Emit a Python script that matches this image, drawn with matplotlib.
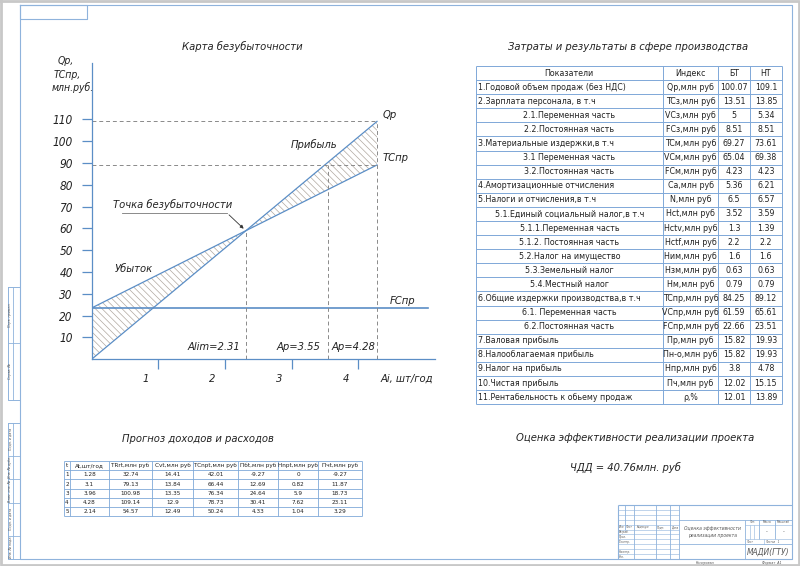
import matplotlib
matplotlib.use('Agg')
import matplotlib.pyplot as plt

plt.rcParams['font.family'] = ['DejaVu Sans']
plt.rcParams['font.stretch'] = 'condensed'
plt.rcParams['hatch.linewidth'] = 0.5

# --- данные графика (НТ) ---
a_max = 4.28          # Ap, шт/год
qp_max = 109.1        # годовой объем продаж
tc_start = 23.51      # постоянные издержки FCпр
tc_max = 89.12        # общие издержки TCпр при a_max
a_lim = 2.31          # точка безубыточности
be_value = 59.0
a_p = 3.55
fc_end = 5.04
y_ticks = [10, 20, 30, 40, 50, 60, 70, 80, 90, 100, 110]
x_ticks = [1, 2, 3, 4]

# --- таблица затрат и результатов ---
indicators = ['1.Годовой объем продаж (без НДС)', '2.Зарплата персонала, в т.ч',
              '2.1.Переменная часть', '2.2.Постоянная часть',
              '3.Материальные издержки,в т.ч', '3.1 Переменная часть',
              '3.2.Постоянная часть', '4.Амортизационные отчисления',
              '5.Налоги и отчисления,в т.ч', '5.1.Единый социальный налог,в т.ч',
              '5.1.1.Переменная часть', '5.1.2. Постоянная часть',
              '5.2.Налог на имущество', '5.3.Земельный налог', '5.4.Местный налог',
              '6.Общие издержки производства,в т.ч', '6.1. Переменная часть',
              '6.2.Постоянная часть', '7.Валовая прибыль', '8.Налооблагаемая прибыль',
              '9.Налог на прибыль', '10.Чистая прибыль',
              '11.Рентабельность к обьему продаж']
indices = ['Qp,млн руб', 'TCз,млн руб', 'VCз,млн руб', 'FCз,млн руб', 'TCм,млн руб',
           'VCм,млн руб', 'FCм,млн руб', 'Cа,млн руб', 'N,млн руб', 'Hct,млн руб',
           'Hctv,млн руб', 'Hctf,млн руб', 'Hим,млн руб', 'Hзм,млн руб', 'Hм,млн руб',
           'TCпр,млн руб', 'VCпр,млн руб', 'FCпр,млн руб', 'Пр,млн руб', 'Пн-о,млн руб',
           'Hпр,млн руб', 'Пч,млн руб', 'ρ,%']
bt = [100.07, 13.51, 5, 8.51, 69.27, 65.04, 4.23, 5.36, 6.5, 3.52, 1.3, 2.2, 1.6,
      0.63, 0.79, 84.25, 61.59, 22.66, 15.82, 15.82, 3.8, 12.02, 12.01]
nt = [109.1, 13.85, 5.34, 8.51, 73.61, 69.38, 4.23, 6.21, 6.57, 3.59, 1.39, 2.2, 1.6,
      0.63, 0.79, 89.12, 65.61, 23.51, 19.93, 19.93, 4.78, 15.15, 13.89]
sub_rows = [2, 3, 5, 6, 9, 10, 11, 12, 13, 14, 16, 17]

# --- прогноз доходов и расходов ---
fc_headers = ['t', 'At,шт/год', 'TRrt,млн руб', 'Cvt,млн руб', 'TCnpt,млн руб',
              'Пбt,млн руб', 'Hnpt,млн руб', 'Пчt,млн руб']
fc_t = [1, 2, 3, 4, 5]
fc_at = [1.28, 3.1, 3.96, 4.28, 2.14]
fc_trt = [32.74, 79.13, 100.98, 109.14, 54.57]
fc_cvt = [14.41, 13.84, 13.35, 12.9, 12.49]
fc_tct = [42.01, 66.44, 76.34, 78.73, 50.24]
fc_pbt = [-9.27, 12.69, 24.64, 30.41, 4.33]
fc_hpt = [0, 0.82, 5.9, 7.62, 1.04]
fc_pct = [-9.27, 11.87, 18.73, 23.11, 3.29]

npv_text = 'ЧДД = 40.76млн. руб'

blue = '#5b8ec6'
frame = '#8fb3dc'
grid = '#7ea8d8'
ink = '#222222'

fig = plt.figure(figsize=(8, 5.66), dpi=100)

# фон: рамка, таблицы, штамп (в пикселях)
bg = fig.add_axes([0, 0, 1, 1])
bg.set_xlim(0, 800)
bg.set_ylim(566, 0)
bg.axis('off')


def ln(x0, y0, x1, y1, c=frame, lw=0.8):
    bg.plot([x0, x1], [y0, y1], color=c, lw=lw, solid_capstyle='butt')


def rect(x0, y0, x1, y1, c=frame, lw=0.8):
    bg.plot([x0, x1, x1, x0, x0], [y0, y0, y1, y1, y0], color=c, lw=lw)


rect(1, 1, 799, 565, c='#c8c8c8', lw=2)
rect(20, 5, 792, 559)
rect(20, 5, 87, 19)

# боковая графа
for top, bot, cuts, labels in [(287, 400, [343], ['Перв. примен.', 'Справ. №']),
                               (423, 559, [455.6, 479.1, 502.6, 535.5],
                                ['Подп. и дата', 'Инв. № дубл.', 'Взам. инв. №',
                                 'Подп. и дата', 'Инв. № подл.'])]:
    rect(8, top, 20, bot, lw=0.7)
    ln(12.7, top, 12.7, bot, lw=0.6)
    edges = [top] + cuts + [bot]
    for c in cuts:
        ln(8, c, 20, c, lw=0.6)
    for lab, e0, e1 in zip(labels, edges[:-1], edges[1:]):
        bg.text(10.4, (e0 + e1) / 2, lab, rotation=90, fontsize=2.6, color='#555',
                ha='center', va='center', style='italic')

# штамп
tx0, ty0 = 618, 505
sx, sy = (792 - 618) / 185, (559 - 505) / 55


def tb(xm, ym):
    return tx0 + xm * sx, ty0 + ym * sy


def tbl(x0, y0, x1, y1, lw=0.6):
    a, b = tb(x0, y0)
    c, d = tb(x1, y1)
    ln(a, b, c, d, lw=lw)


tbl(0, 0, 185, 0, lw=0.8)
tbl(0, 0, 0, 55, lw=0.8)
for k in range(1, 11):
    tbl(0, 5 * k, 65, 5 * k, lw=0.4)
tbl(7, 0, 7, 25)
for xm in [17, 40, 55, 65]:
    tbl(xm, 0, xm, 55)
tbl(65, 15, 185, 15)
tbl(65, 40, 185, 40)
tbl(135, 15, 135, 55)
tbl(135, 20, 185, 20, lw=0.4)
tbl(135, 35, 185, 35, lw=0.4)
for xm in [140, 145]:
    tbl(xm, 20, xm, 35, lw=0.4)
tbl(150, 15, 150, 35)
tbl(167, 15, 167, 35)
tbl(155, 35, 155, 40, lw=0.4)


def tbt(xm, ym, s, size=2.2, ha='left', **kw):
    x, y = tb(xm, ym)
    bg.text(x, y, s, fontsize=size, ha=ha, va='center', color='#555', style='italic', **kw)


for xm, s in [(0.5, 'Изм.'), (7.5, 'Лист'), (19, '№ докум.'), (41, 'Подп.'), (56, 'Дата')]:
    tbt(xm, 22.5, s)
for k, s in enumerate(['Разраб.', 'Пров.', 'Т.контр.', '', 'Н.контр.', 'Утв.']):
    tbt(0.5, 27.5 + 5 * k, s)
tbt(100, 23.5, 'Оценка эффективности', size=3.6, ha='center')
tbt(100, 31, 'реализации проекта', size=3.6, ha='center')
tbt(142.5, 17.5, 'Лит.', ha='center')
tbt(158.5, 17.5, 'Масса', ha='center')
tbt(176, 17.5, 'Масштаб', ha='center')
tbt(158.5, 27.5, '-', size=4, ha='center')
tbt(176, 27.5, '-', size=4, ha='center')
tbt(136, 37.5, 'Лист')
tbt(156, 37.5, 'Листов   1')
tbt(160, 47.5, 'МАДИ(ГТУ)', size=6, ha='center')
bg.text(705, 563, 'Копировал', fontsize=2.6, color='#555', ha='center', va='center', style='italic')
bg.text(772, 563, 'Формат  A1', fontsize=2.6, color='#555', ha='center', va='center', style='italic')

# заголовки
head = dict(fontsize=8, style='italic', ha='center', va='center', color=ink)
bg.text(242, 47, 'Карта безубыточности', **head)
bg.text(628, 47, 'Затраты и результаты в сфере производства', **head)
bg.text(198, 439, 'Прогноз доходов и расходов', **head)
bg.text(635, 438, 'Оценка эффективности реализации проекта', **head)
bg.text(625, 467, npv_text, **head)
for s, x, y in [('Qp,', 58, 61.5), ('TCпр,', 54, 75), ('млн.руб.', 51.5, 87.5)]:
    bg.text(x, y, s, fontsize=7.5, style='italic', ha='left', va='center', color=ink)

# таблица затрат
cols = [476, 662.7, 718.3, 750, 781.7]
r_top, r_h = 66, 14.09
n_rows = len(indicators) + 1
for i in range(n_rows + 1):
    ln(cols[0], r_top + i * r_h, cols[-1], r_top + i * r_h, c=grid, lw=0.7)
for c in cols:
    ln(c, r_top, c, r_top + n_rows * r_h, c=grid, lw=0.7)
tfont = dict(fontsize=6.3, va='center', color=ink)
yc = r_top + r_h / 2
bg.text((cols[0] + cols[1]) / 2, yc, 'Показатели', ha='center', **tfont)
bg.text((cols[1] + cols[2]) / 2, yc, 'Индекс', ha='center', **tfont)
bg.text((cols[2] + cols[3]) / 2, yc, 'БТ', ha='center', **tfont)
bg.text((cols[3] + cols[4]) / 2, yc, 'НТ', ha='center', **tfont)
for i, (name, idx, b, n) in enumerate(zip(indicators, indices, bt, nt)):
    yc = r_top + (i + 1.5) * r_h
    if i in sub_rows:
        bg.text((cols[0] + cols[1]) / 2, yc, name, ha='center', **tfont)
    else:
        bg.text(cols[0] + 1.5, yc, name, ha='left', **tfont)
    bg.text((cols[1] + cols[2]) / 2, yc, idx, ha='center', **tfont)
    bg.text((cols[2] + cols[3]) / 2, yc, f'{b:g}', ha='center', **tfont)
    bg.text((cols[3] + cols[4]) / 2, yc, f'{n:g}', ha='center', **tfont)

# таблица прогноза
fcols = [64, 70, 109, 152, 193, 238, 278, 318, 362]
f_top, f_h = 461, 9.2
for i in range(7):
    ln(fcols[0], f_top + i * f_h, fcols[-1], f_top + i * f_h, c=grid, lw=0.6)
for c in fcols:
    ln(c, f_top, c, f_top + 6 * f_h, c=grid, lw=0.6)
ffont = dict(fontsize=4.6, va='center', ha='center', color=ink)
for j, h in enumerate(fc_headers):
    bg.text((fcols[j] + fcols[j + 1]) / 2, f_top + f_h / 2, h, **ffont)
fc_cols = [fc_t, fc_at, fc_trt, fc_cvt, fc_tct, fc_pbt, fc_hpt, fc_pct]
for j, col in enumerate(fc_cols):
    for i, v in enumerate(col):
        bg.text((fcols[j] + fcols[j + 1]) / 2, f_top + (i + 1.5) * f_h, f'{v:g}', **ffont)

# --- карта безубыточности ---
ax = fig.add_axes([91.7 / 800, (566 - 359.2) / 566, (435 - 91.7) / 800, (359.2 - 63) / 566])
ax.set_facecolor('none')
ax.set_xlim(0, 5.15)
ax.set_ylim(0, 135.9)
for s in ['top', 'right']:
    ax.spines[s].set_visible(False)
for s in ['left', 'bottom']:
    ax.spines[s].set_color(blue)
    ax.spines[s].set_linewidth(0.9)

xs = [0, a_max]
qp = [0, qp_max]
tc = [tc_start, tc_max]
ax.fill_between(xs, qp, tc, interpolate=True, facecolor='none', edgecolor='#b0a8a0',
                hatch='\\' * 5, linewidth=0)
ax.plot(xs, qp, color=blue, lw=0.9)
ax.plot(xs, tc, color=blue, lw=0.9)
ax.plot([0, fc_end], [tc_start, tc_start], color=blue, lw=1.2)

dash = dict(color='#8a8a8a', lw=0.7, ls=(0, (4, 3)))
ax.plot([0, a_max], [qp_max, qp_max], **dash)
ax.plot([0, a_max], [tc_max, tc_max], **dash)
ax.plot([a_max, a_max], [0, qp_max], **dash)
ax.plot([a_p, a_p], [0, tc_max], **dash)
ax.plot([a_lim, a_lim], [0, be_value], **dash)

ax.set_yticks(y_ticks)
ax.set_yticklabels([str(v) for v in y_ticks], fontstyle='italic', fontsize=8.5, color=ink)
ax.set_xticks(x_ticks)
ax.set_xticklabels([])
ax.tick_params(axis='both', direction='out', color=blue, width=0.9)
ax.tick_params(axis='y', length=7, pad=6.5)
ax.tick_params(axis='x', length=7.5)

lab = dict(fontstyle='italic', fontsize=8, color=ink, va='center')
for t in x_ticks:
    ax.text(t - 0.19, -9.1, str(t), ha='center', clip_on=False, **lab)
ax.text(4.72, -9.1, 'Ai, шт/год', ha='center', clip_on=False, **lab)
ax.text(4.36, 112, 'Qp', ha='left', **lab)
ax.text(4.36, 92.3, 'TCпр', ha='left', **lab)
ax.text(3.34, 98.7, 'Прибыль', ha='center', **lab)
ax.text(0.635, 41.4, 'Убыток', ha='center', **lab)
ax.text(4.67, 26.7, 'FCпр', ha='center', **lab)
ax.text(2.23, 5.6, f'Alim={a_lim}', ha='right', **lab)
ax.text(3.1, 5.6, f'Ap={a_p}', ha='center', **lab)
ax.text(3.92, 5.6, f'Ap={a_max}', ha='center', **lab)
ax.text(1.22, 70.8, 'Точка безубыточности', ha='center', **lab)
ax.plot([0.45, 2.03], [67.1, 67.1], color='#777', lw=0.6)
ax.annotate('', xy=(a_lim, be_value), xytext=(2.03, 67.1),
            arrowprops=dict(arrowstyle='-|>', color='#333', lw=0.6, mutation_scale=5))

fig.savefig('out.png', dpi=100)
